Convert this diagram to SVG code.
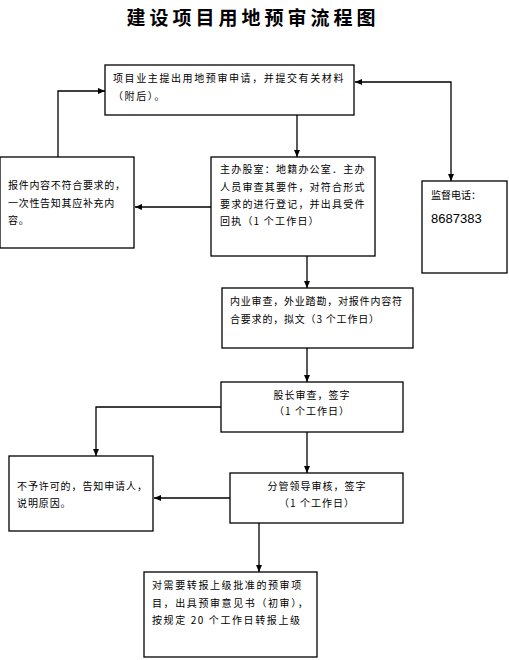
<svg xmlns="http://www.w3.org/2000/svg" width="509" height="660" viewBox="0 0 509 660">
<defs>
<marker id="ah" markerUnits="userSpaceOnUse" markerWidth="7" markerHeight="7" refX="7" refY="3" orient="auto-start-reverse"><path d="M0,0 L7,3 L0,6 z" fill="#000"/></marker>
</defs>
<style>
.box{fill:#fff;stroke:#000;stroke-width:1.3}
.t{font-family:"Noto Sans CJK SC","Noto Sans CJK TC",sans-serif;font-size:10px;fill:#000}
.c{text-anchor:middle}
.ln{fill:none;stroke:#000;stroke-width:1.3;marker-end:url(#ah)}
</style>
<rect width="509" height="660" fill="#fff"/>
<text x="253" y="25" text-anchor="middle" style="font-family:'Noto Sans CJK SC',serif;font-size:19px;font-weight:bold;letter-spacing:4px">建设项目用地预审流程图</text>
<g id="connectors">
<path class="ln" d="M297,115 V157"/>
<path class="ln" d="M211,207 H135"/>
<path class="ln" d="M58,157 V91 H105"/>
<path class="ln" style="marker-start:url(#ah)" d="M355,82 H451 V181"/>
<path class="ln" d="M307,256 V288"/>
<path class="ln" d="M307,348 V382"/>
<path class="ln" d="M221,407 H96 V456"/>
<path class="ln" d="M307,432 V473"/>
<path class="ln" d="M230,498 H154"/>
<path class="ln" d="M259,523 V572"/>
</g>
<g id="n1"><rect class="box" x="105" y="65" width="249" height="50"/>
<text class="t" style="letter-spacing:1.6px" x="113" y="82">项目业主提出用地预审申请，并提交有关材料</text>
<text class="t" style="letter-spacing:1.6px" x="113" y="100">（附后）。</text></g>
<g id="n2"><rect class="box" x="211" y="157" width="164" height="99"/>
<text class="t" style="letter-spacing:1.2px" x="220" y="173">主办股室：地籍办公室．主办</text>
<text class="t" style="letter-spacing:1.2px" x="220" y="191">人员审查其要件，对符合形式</text>
<text class="t" style="letter-spacing:1.2px" x="220" y="208">要求的进行登记，并出具受件</text>
<text class="t" style="letter-spacing:1.2px" x="220" y="225">回执（1 个工作日）</text></g>
<g id="n3"><rect class="box" x="0" y="157" width="134" height="91"/>
<text class="t" style="letter-spacing:0.7px" x="8" y="189">报件内容不符合要求的，</text>
<text class="t" style="letter-spacing:0.7px" x="8" y="207">一次性告知其应补充内</text>
<text class="t" style="letter-spacing:0.7px" x="8" y="224">容。</text></g>
<g id="n4"><rect class="box" x="422" y="181" width="85" height="92"/>
<text class="t" x="431" y="199">监督电话：</text>
<text x="431" y="223" style="font-family:'Liberation Sans',sans-serif;font-size:13px">8687383</text></g>
<g id="n5"><rect class="box" x="222" y="288" width="191" height="60"/>
<text class="t" style="letter-spacing:0.8px" x="230" y="305">内业审查，外业踏勘，对报件内容符</text>
<text class="t" style="letter-spacing:0.8px" x="230" y="323">合要求的，拟文（3 个工作日）</text></g>
<g id="n6"><rect class="box" x="221" y="382" width="182" height="50"/>
<text class="t c" style="letter-spacing:1px" x="312" y="399">股长审查，签字</text>
<text class="t c" style="letter-spacing:1px" x="312" y="415">（1 个工作日）</text></g>
<g id="n7"><rect class="box" x="9" y="456" width="144" height="75"/>
<text class="t" style="letter-spacing:0.9px" x="17" y="490">不予许可的，告知申请人，</text>
<text class="t" style="letter-spacing:0.9px" x="17" y="507">说明原因。</text></g>
<g id="n8"><rect class="box" x="230" y="473" width="173" height="50"/>
<text class="t c" style="letter-spacing:1px" x="317" y="490">分管领导审核，签字</text>
<text class="t c" style="letter-spacing:1px" x="317" y="507">（1 个工作日）</text></g>
<g id="n9"><rect class="box" x="144" y="572" width="173" height="85"/>
<text class="t" style="letter-spacing:1.6px" x="152" y="589">对需要转报上级批准的预审项</text>
<text class="t" style="letter-spacing:1.6px" x="152" y="607">目，出具预审意见书（初审），</text>
<text class="t" style="letter-spacing:1.6px" x="152" y="624">按规定 20 个工作日转报上级</text></g>
</svg>
